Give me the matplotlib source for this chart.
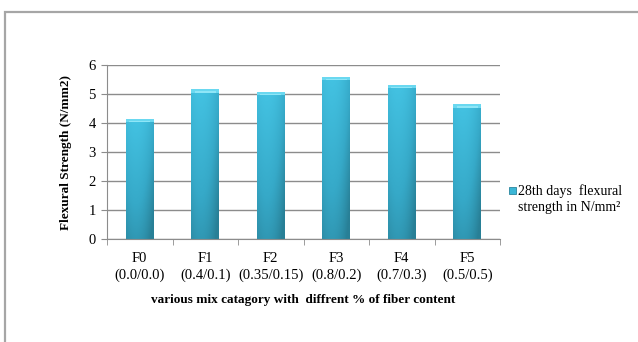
import matplotlib.pyplot as plt
import numpy as np
from matplotlib.colors import LinearSegmentedColormap
from matplotlib.patches import Rectangle

plt.rcParams['font.family'] = ['Liberation Serif', 'DejaVu Serif']

mixes = ["F0", "F1", "F2", "F3", "F4", "F5"]
fiber_ratio = ["(0.0/0.0)", "(0.4/0.1)", "(0.35/0.15)", "(0.8/0.2)", "(0.7/0.3)", "(0.5/0.5)"]
strength = [4.13, 5.16, 5.06, 5.58, 5.31, 4.64]
series_name = "28th days  flexural\nstrength in N/mm²"

fig = plt.figure(figsize=(6.38, 3.42), dpi=100)
fig.patch.set_facecolor("white")

# outer chart frame (top and left edges visible)
fig.patches.append(Rectangle((5 / 638, -0.1), 1.2, 1 - 12 / 342 + 0.1,
                             transform=fig.transFigure, fill=False,
                             edgecolor="#a6a6a6", linewidth=1.6))

ax = fig.add_axes([107 / 638, 103 / 342, 393 / 638, 174 / 342])
x = np.arange(len(mixes))
width = 0.42

shade = LinearSegmentedColormap.from_list("shade", ["#287f96", "#36a9c8", "#43c2e2"])
bars = ax.bar(x, strength, width=width, color="#3bb6d6", zorder=2)
for b in bars:
    x0, y0, w, h = b.get_x(), b.get_y(), b.get_width(), b.get_height()
    b.set_facecolor("none")
    # vertical + horizontal shading for the bar body
    vy = np.linspace(0, 1, 100)[:, None]
    hx = np.linspace(0, 1, 30)[None, :]
    grad = 0.3 + 0.7 * vy - (hx - 0.35) ** 2
    ax.imshow(grad, extent=(x0, x0 + w, y0, y0 + h), origin="lower",
              aspect="auto", cmap=shade, vmin=0, vmax=1, zorder=2)
    # bevelled top cap
    ax.add_patch(Rectangle((x0, y0 + h - 0.11), w, 0.11, color="#6ad8f0",
                           zorder=3, linewidth=0))
    ax.add_patch(Rectangle((x0 + w * 0.12, y0 + h - 0.11), w * 0.76, 0.05,
                           color="#8fe6f7", zorder=3, linewidth=0))

ax.set_xlim(-0.5, len(mixes) - 0.5)
ax.set_ylim(0, 6)
ax.set_yticks(range(0, 7))
ax.set_xticks(x)
ax.set_xticklabels([f"{m}\n{r}" for m, r in zip(mixes, fiber_ratio)], fontsize=10.5,
                   linespacing=1.35)
ax.set_xticks(np.arange(-0.5, len(mixes), 1), minor=True)
ax.tick_params(axis="x", which="major", length=0, pad=9)
ax.tick_params(axis="x", which="minor", length=4, color="#8c8c8c", direction="out")
ax.tick_params(axis="y", length=4, color="#8c8c8c", labelsize=10.5, pad=4)
ax.yaxis.grid(True, color="#8c8c8c", linewidth=1)
ax.set_axisbelow(True)
for side in ("top", "right"):
    ax.spines[side].set_visible(False)
for side in ("left", "bottom"):
    ax.spines[side].set_color("#8c8c8c")

ax.set_ylabel("Flexural Strength (N/mm2)", fontsize=9.5, fontweight="bold", labelpad=12)
ax.set_xlabel("various mix catagory with  diffrent % of fiber content", fontsize=9.5,
              fontweight="bold", labelpad=9)

# legend
fig.patches.append(Rectangle((509 / 638, 1 - 194 / 342), 7 / 638, 7 / 342,
                             transform=fig.transFigure, facecolor="#3bb6d6",
                             edgecolor="#2a869e", linewidth=0.6))
fig.text(518 / 638, 1 - 199 / 342, series_name, fontsize=10, va="center", ha="left",
         linespacing=1.25)

fig.savefig("out.png", dpi=100)
